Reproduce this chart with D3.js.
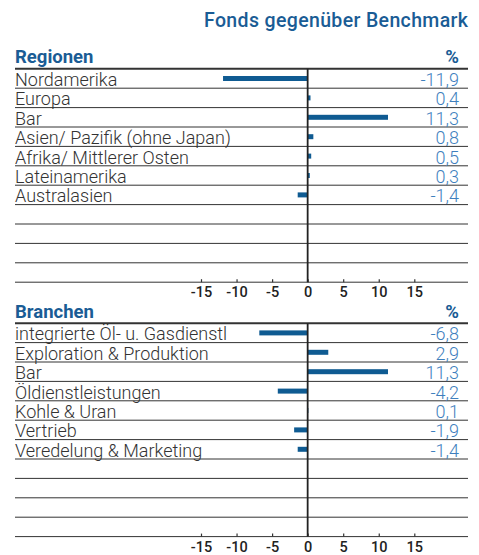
<!DOCTYPE html>
<html>
<head>
<meta charset="utf-8">
<script src="https://cdn.jsdelivr.net/npm/d3@7"></script>
<style>
  html, body { margin: 0; padding: 0; background: #fff; }
  svg { display: block; }
</style>
</head>
<body>
<svg id="chart" width="479" height="555"></svg>
<script>
// ---- data ----
const title = "Fonds gegenüber Benchmark";
const regionCategories = ["Nordamerika", "Europa", "Bar", "Asien/ Pazifik (ohne Japan)", "Afrika/ Mittlerer Osten", "Lateinamerika", "Australasien"];
const regionValues = [-11.9, 0.4, 11.3, 0.8, 0.5, 0.3, -1.4];
const sectorCategories = ["integrierte Öl- u. Gasdienstl", "Exploration & Produktion", "Bar", "Öldienstleistungen", "Kohle & Uran", "Vertrieb", "Veredelung & Marketing"];
const sectorValues = [-6.8, 2.9, 11.3, -4.2, 0.1, -1.9, -1.4];
const tickValues = [-15, -10, -5, 0, 5, 10, 15];
const unitLabel = "%";

// ---- layout ----
const left = 15, right = 468, valueRight = 459;
const rowCount = 11, rowH = 19.4;
const blue = "#1a5c95", barBlue = "#0f5b92", valBlue = "#3f7fbe", ink = "#333";
const labelFont = "Roboto, 'Liberation Sans', Arial, sans-serif";

const svg = d3.select("#chart");
const x = d3.scaleLinear().domain([-15, 15]).range([201, 414.3]);
const fmt = v => d3.format(".1f")(v).replace(".", ",").replace("−", "-");

svg.append("text")
  .attr("x", right).attr("y", 26.5)
  .attr("text-anchor", "end")
  .attr("font-family", labelFont)
  .attr("font-weight", 500)
  .attr("font-size", 19.5)
  .attr("textLength", 264)
  .attr("lengthAdjust", "spacing")
  .attr("fill", blue)
  .text(title);

function section(top, heading, cats, vals) {
  const g = svg.append("g");
  const y = d3.scaleBand().domain(d3.range(rowCount)).range([top, top + rowCount * rowH]);

  g.append("text").attr("x", left).attr("y", top - 5.5)
    .attr("font-family", labelFont).attr("font-weight", 700).attr("font-size", 18.5)
    .attr("fill", blue).text(heading);
  g.append("text").attr("x", valueRight).attr("y", top - 5.5).attr("text-anchor", "end")
    .attr("font-family", labelFont).attr("font-weight", 700).attr("font-size", 18.5)
    .attr("fill", blue).text(unitLabel);

  // row lines
  g.selectAll("line.row").data(d3.range(rowCount)).join("line")
    .attr("class", "row")
    .attr("x1", left).attr("x2", right)
    .attr("y1", i => y(i) + rowH).attr("y2", i => y(i) + rowH)
    .attr("stroke", ink).attr("stroke-width", 1);
  // top line
  g.append("line").attr("x1", left).attr("x2", right)
    .attr("y1", top).attr("y2", top).attr("stroke", ink).attr("stroke-width", 2);

  const data = cats.map((c, i) => ({c, v: vals[i], i}));

  // labels
  g.selectAll("text.lab").data(data).join("text")
    .attr("class", "lab")
    .attr("x", left).attr("y", d => y(d.i) + rowH - 2.3)
    .attr("font-family", labelFont).attr("font-weight", 300).attr("font-size", 18)
    .attr("fill", ink).text(d => d.c);

  // values
  g.selectAll("text.val").data(data).join("text")
    .attr("class", "val")
    .attr("x", valueRight).attr("y", d => y(d.i) + rowH - 2.3)
    .attr("text-anchor", "end")
    .attr("font-family", labelFont).attr("font-weight", 300).attr("font-size", 18)
    .attr("fill", valBlue).text(d => fmt(d.v));

  // bars
  g.selectAll("rect.bar").data(data).join("rect")
    .attr("class", "bar")
    .attr("x", d => x(Math.min(0, d.v)))
    .attr("width", d => Math.abs(x(d.v) - x(0)))
    .attr("y", d => y(d.i) + rowH / 2 - 2.5)
    .attr("height", 5)
    .attr("fill", barBlue);

  // axis
  const bottom = top + rowCount * rowH;
  const axis = d3.axisBottom(x).tickValues(tickValues).tickSize(-3).tickPadding(6).tickFormat(d => d3.format("d")(d).replace("−", "-"));
  const ag = g.append("g").attr("transform", `translate(0,${bottom})`).call(axis);
  ag.select(".domain").remove();
  ag.selectAll(".tick line").attr("stroke", ink).attr("stroke-width", 1.2);
  ag.selectAll(".tick text")
    .attr("y", 15).attr("dy", 0)
    .attr("font-family", labelFont).attr("font-weight", 500).attr("font-size", 14.5)
    .attr("fill", "#222");

  // zero line
  g.append("line").attr("x1", x(0)).attr("x2", x(0))
    .attr("y1", top).attr("y2", bottom)
    .attr("stroke", "#222").attr("stroke-width", 1.8);
}

section(68.8, "Regionen", regionCategories, regionValues);
section(323.2, "Branchen", sectorCategories, sectorValues);
</script>
</body>
</html>
